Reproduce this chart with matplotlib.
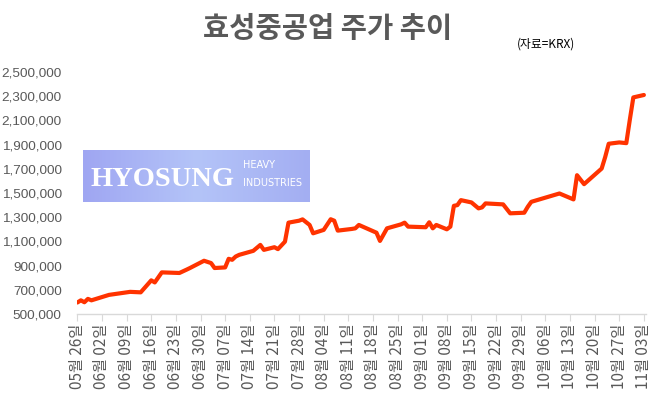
import matplotlib
matplotlib.use("Agg")
import matplotlib.pyplot as plt
import matplotlib.dates as mdates
import numpy as np
import pandas as pd

plt.rcParams['font.family'] = ['Liberation Sans', 'Noto Sans CJK KR', 'DejaVu Sans']

title = "효성중공업 주가 추이"
source = "(자료=KRX)"

dates = [
    "2025-05-26", "2025-05-27", "2025-05-28", "2025-05-29", "2025-05-30",
    "2025-06-04", "2025-06-10", "2025-06-13", "2025-06-16", "2025-06-17",
    "2025-06-19", "2025-06-24", "2025-06-26", "2025-06-27", "2025-07-01",
    "2025-07-03", "2025-07-04", "2025-07-07", "2025-07-08", "2025-07-09",
    "2025-07-10", "2025-07-11", "2025-07-15", "2025-07-17", "2025-07-18",
    "2025-07-21", "2025-07-22", "2025-07-24", "2025-07-25", "2025-07-28",
    "2025-07-29", "2025-07-31", "2025-08-01", "2025-08-04", "2025-08-06",
    "2025-08-07", "2025-08-08", "2025-08-12", "2025-08-13", "2025-08-14",
    "2025-08-19", "2025-08-20", "2025-08-22", "2025-08-26", "2025-08-27",
    "2025-08-28", "2025-09-02", "2025-09-03", "2025-09-04", "2025-09-05",
    "2025-09-08", "2025-09-09", "2025-09-10", "2025-09-11", "2025-09-12",
    "2025-09-15", "2025-09-17", "2025-09-18", "2025-09-19", "2025-09-24",
    "2025-09-26", "2025-09-30", "2025-10-01", "2025-10-02", "2025-10-10",
    "2025-10-14", "2025-10-15", "2025-10-17", "2025-10-22", "2025-10-23",
    "2025-10-24", "2025-10-27", "2025-10-29", "2025-10-30", "2025-10-31",
    "2025-11-03",
]
prices = [
    595000, 613000, 597000, 625000, 613000,
    658000, 683000, 679000, 778000, 761000,
    844000, 839000, 866000, 880000, 940000,
    921000, 880000, 885000, 956000, 948000,
    975000, 989000, 1022000, 1071000, 1030000,
    1052000, 1036000, 1098000, 1255000, 1271000,
    1282000, 1236000, 1167000, 1195000, 1283000,
    1271000, 1189000, 1203000, 1208000, 1236000,
    1172000, 1104000, 1208000, 1241000, 1255000,
    1222000, 1217000, 1258000, 1208000, 1236000,
    1200000, 1222000, 1394000, 1400000, 1441000,
    1422000, 1373000, 1381000, 1414000, 1406000,
    1332000, 1337000, 1386000, 1427000, 1496000,
    1447000, 1647000, 1573000, 1702000, 1797000,
    1907000, 1918000, 1912000, 2105000, 2290000,
    2310000,
]
tick_dates = pd.date_range("2025-05-26", "2025-11-03", freq="7D")
y_ticks = list(range(500000, 2500001, 200000))

gray = "#595959"
fig = plt.figure(figsize=(6.66, 3.93), dpi=100)
ax = fig.add_axes([77/666, 1-314/393, (646-77)/666, (314-72)/393])

x = pd.to_datetime(dates)
ax.plot(x, prices, color="#ff3300", lw=3.0, solid_joinstyle="round", solid_capstyle="round")

ax.set_xlim(mdates.date2num(pd.Timestamp("2025-05-26")) - 0.1,
            mdates.date2num(pd.Timestamp("2025-11-03")) + 0.6)
ax.set_ylim(500000, 2500000)
ax.set_yticks(y_ticks)
ax.set_yticklabels([f"{v:,}" for v in y_ticks])
ax.set_xticks(tick_dates)
ax.set_xticklabels([f"{d.month:02d}월 {d.day:02d}일" for d in tick_dates],
                   rotation=90, fontsize=11, color=gray,
                   family=['Noto Sans CJK KR', 'DejaVu Sans'])
ax.tick_params(axis='y', length=0, pad=11, labelsize=9.7, labelcolor=gray)
ax.tick_params(axis='x', length=5, color="#d9d9d9", pad=2)
for s in ["top", "right", "left"]:
    ax.spines[s].set_visible(False)
ax.spines["bottom"].set_color("#d9d9d9")
ax.spines["bottom"].set_linewidth(1.0)

fig.text(328/666, 1-29/393, title, ha="center", va="center", fontsize=20.5,
         fontweight="bold", color=gray, family=['Noto Sans CJK KR', 'DejaVu Sans'])
fig.text(546/666, 1-44/393, source, ha="center", va="center", fontsize=8.5,
         color="#000000", family=['Noto Sans CJK KR', 'DejaVu Sans'])

# logo box
lax = fig.add_axes([83/666, 1-201.7/393, 227/666, 51.7/393])
t = np.linspace(0, 1, 256)
c_left = np.array([159, 166, 242]) / 255
c_mid = np.array([180, 196, 248]) / 255
c_right = np.array([163, 174, 242]) / 255
grad = np.where(t[:, None] < 0.5,
                c_left + (c_mid - c_left) * (t[:, None] / 0.5),
                c_mid + (c_right - c_mid) * ((t[:, None] - 0.5) / 0.5))
lax.imshow(grad[None, :, :], aspect="auto", extent=[0, 1, 0, 1])
lax.set_xlim(0, 1)
lax.set_ylim(0, 1)
lax.axis("off")
lax.text(0.031, 0.30, "HYOSUNG", ha="left", va="baseline", fontsize=20.5,
         fontweight="bold", color="white", family="Liberation Serif")
lax.text(0.705, 0.645, "HEAVY", ha="left", va="baseline", fontsize=7,
         color="white", family="DejaVu Sans")
lax.text(0.705, 0.30, "INDUSTRIES", ha="left", va="baseline", fontsize=7,
         color="white", family="DejaVu Sans")

fig.savefig("out.png", dpi=100)
